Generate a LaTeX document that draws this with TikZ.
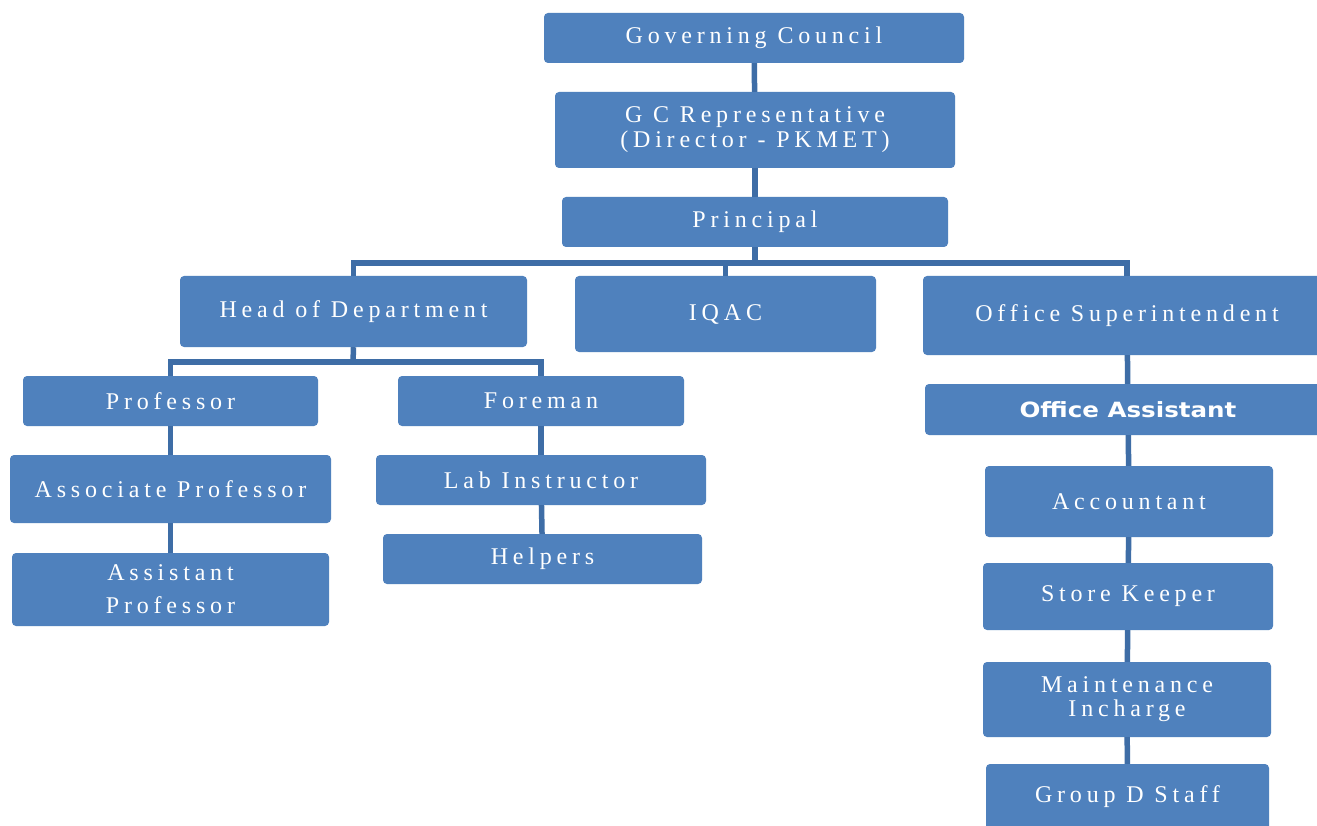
\documentclass[tikz,border=0pt]{standalone}
\usepackage{fontspec}
\setmainfont{Liberation Serif}[LetterSpace=20]
\newfontfamily\boldsans{DejaVu Sans}[FakeStretch=1.17]
\definecolor{boxblue}{HTML}{4F81BD}
\definecolor{linkblue}{HTML}{3E6DA6}
\begin{document}
\begin{tikzpicture}[x=1pt,y=-1pt,
  org/.style={fill=boxblue, rounded corners=4pt, inner sep=0pt, text=white,
    font=\fontsize{24}{27}\selectfont, align=center},
  link/.style={draw=linkblue, line width=5.5pt}]
\useasboundingbox (0,0) rectangle (1317,826);
\clip (0,0) rectangle (1317,826);
\fill[white] (0,0) rectangle (1317,826);
\newcommand{\orgbox}[6]{% name, x1, y1, x2, y2, text
  \node[org, minimum width={#4-#2}, minimum height={#5-#3}] (#1) at ({(#2+#4)/2},{(#3+#5)/2}) {#6};}
\orgbox{gc}{544}{13}{964}{63}{Governing Council}
\orgbox{gcr}{555}{92}{955}{168}{G C Representative\\[-2pt](Director - PKMET)}
\orgbox{pr}{562}{197}{948}{247}{Principal}
\orgbox{hod}{180}{276}{527}{347}{Head of Department}
\orgbox{iqac}{575}{276}{876}{352}{IQAC}
\orgbox{ost}{923}{276}{1331}{355}{Office Superintendent}
\node[org, minimum width=406, minimum height=51, font=\boldsans\bfseries\fontsize{21}{24}\selectfont] (oa) at (1128,409.5) {Office Assistant};
\orgbox{prof}{23}{376}{318}{426}{Professor}
\orgbox{asso}{10}{455}{331}{523}{Associate Professor}
\orgbox{asst}{12}{553}{329}{626}{Assistant\\[6pt]Professor}
\orgbox{fore}{398}{376}{684}{426}{Foreman}
\orgbox{lab}{376}{455}{706}{505}{Lab Instructor}
\orgbox{help}{383}{534}{702}{584}{Helpers}
\orgbox{acc}{985}{466}{1273}{537}{Accountant}
\orgbox{sk}{983}{563}{1273}{630}{Store Keeper}
\orgbox{mi}{983}{662}{1271}{737}{Maintenance\\[-3pt]Incharge}
\orgbox{gd}{986}{764}{1269}{830}{Group D Staff}
\coordinate (b1) at (755,263);
\coordinate (b2) at (353,362);
\draw[link] (gc) -- (gcr);
\draw[link] (gcr) -- (pr);
\draw[link] (pr.south) -- (b1);
\draw[link] (hod.north) -- (hod.north |- b1) -- (ost.north |- b1) -- (ost.north);
\draw[link] (iqac.north |- b1) -- (iqac.north);
\draw[link] (hod.south) -- (b2);
\draw[link] (prof.north) -- (prof.north |- b2) -- (fore.north |- b2) -- (fore.north);
\draw[link] (ost) -- (oa);
\draw[link] (prof) -- (asso);
\draw[link] (asso) -- (asst);
\draw[link] (fore) -- (lab);
\draw[link] (lab) -- (help);
\draw[link] (oa) -- (acc);
\draw[link] (acc) -- (sk);
\draw[link] (sk) -- (mi);
\draw[link] (mi) -- (gd);
\end{tikzpicture}
\end{document}
